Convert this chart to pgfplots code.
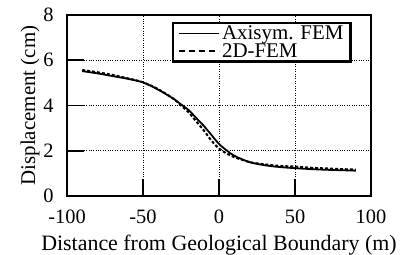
\documentclass[border=0pt]{standalone}
\usepackage{pgfplots}
\pgfplotsset{compat=1.18}
\usepackage{fontspec}
\setmainfont{Liberation Serif}
\begin{document}
\begin{tikzpicture}
\useasboundingbox (-67bp,-59bp) rectangle (340bp,196bp);
\begin{axis}[
  at={(0,0)}, anchor=south west,
  scale only axis,
  width=304bp, height=181bp,
  xmin=-100, xmax=100, ymin=0, ymax=8,
  xtick={-100,-50,0,50,100}, ytick={0,2,4,6,8},
  xticklabels={-100,-50,0,50,100},
  yticklabels={0,2,4,6,8},
  ticklabel style={font=\fontsize{20.5}{20}\selectfont},
  xticklabel style={anchor=base, yshift=-27bp},
  yticklabel style={anchor=east, xshift=-10bp},
  xlabel={Distance from Geological Boundary (m)},
  ylabel={Displacement (cm)},
  xlabel style={font=\fontsize{22}{22}\selectfont, at={(rel axis cs:0.5,0)}, anchor=base, yshift=-54bp},
  ylabel style={font=\fontsize{21}{21}\selectfont, at={(rel axis cs:0,0.5)}, anchor=center, yshift=37bp},
  axis line style={line width=1.8pt},
  major tick style={line width=1.8pt, black},
  major tick length=17bp,
  tick pos=left, tick align=inside,
  grid=major,
  grid style={dotted, line width=0.7pt, black},
  legend style={at={(rel axis cs:0.345,0.961)}, anchor=north west, draw=black, line width=2.4pt,
    font=\fontsize{21}{21}\selectfont, inner xsep=5pt, inner ysep=2pt, row sep=1.5pt,
    nodes={inner ysep=0.5pt}},
  legend cell align=left,
  legend image code/.code={\draw[#1] (0bp,0bp) -- (40bp,0bp);},
]
\addplot[black, line width=1.8pt, smooth] coordinates {
(-90,5.52)(-80,5.42)(-70,5.3)(-60,5.18)(-50,5.02)(-40,4.7)(-30,4.3)(-25,4.05)(-20,3.8)(-15,3.45)(-10,3.1)(-5,2.7)(0,2.3)(5,2.02)(10,1.78)(20,1.5)(30,1.36)(40,1.28)(50,1.23)(60,1.19)(70,1.16)(80,1.14)(90,1.12)};
\addlegendentry{Axisym. FEM}
\addplot[black, line width=2pt, dash pattern=on 3pt off 2pt, smooth, legend image post style={dash pattern=on 6bp off 4bp}] coordinates {
(-90,5.57)(-80,5.47)(-70,5.35)(-60,5.2)(-50,5.03)(-40,4.72)(-30,4.3)(-25,4.0)(-20,3.7)(-15,3.3)(-10,2.9)(-5,2.45)(0,2.1)(5,1.88)(10,1.72)(20,1.5)(30,1.4)(40,1.33)(50,1.3)(60,1.25)(70,1.22)(80,1.19)(90,1.17)};
\addlegendentry{2D-FEM}
\end{axis}
\end{tikzpicture}
\end{document}
